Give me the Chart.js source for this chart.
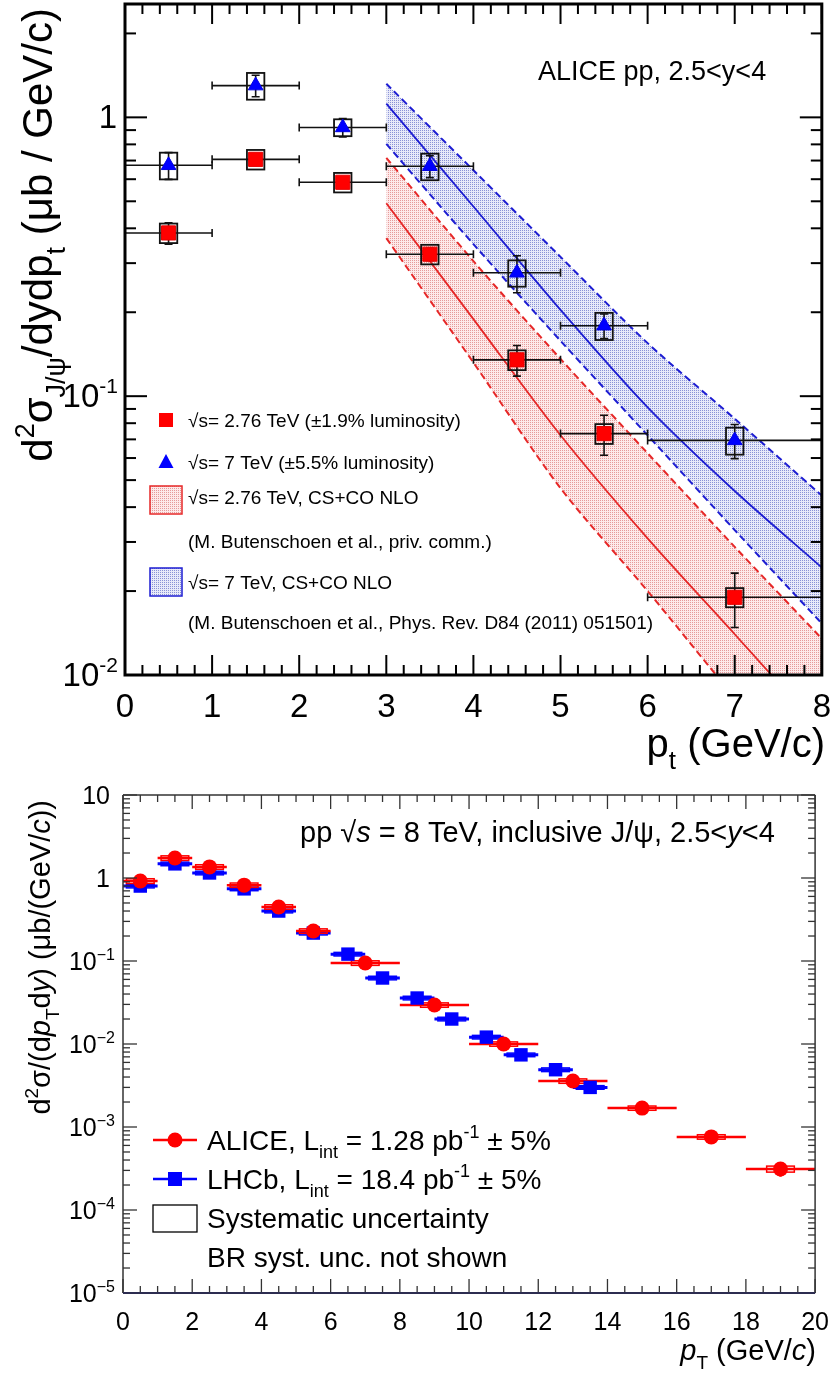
<!DOCTYPE html>
<html>
<head>
<meta charset="utf-8">
<script src="https://cdn.jsdelivr.net/npm/chart.js@4.4.0/dist/chart.umd.min.js"></script>
<style>
html, body { margin: 0; padding: 0; background: #fff; }
#wrap { position: relative; width: 836px; height: 1375px; }
#top { position: absolute; left: 0; top: 0; }
#bottom { position: absolute; left: 0; top: 770px; }
</style>
</head>
<body>
<div id="wrap">
  <canvas id="top" width="836" height="790"></canvas>
  <canvas id="bottom" width="836" height="605"></canvas>
</div>
<script>
const FONT = "'Liberation Sans', Arial, Helvetica, sans-serif";

// ---- top panel: ALICE pp 2.76 TeV and 7 TeV ----
const ptCentres = [0.5, 1.5, 2.5, 3.5, 4.5, 5.5, 7];
const ptLow = [0, 1, 2, 3, 4, 5, 6];
const ptHigh = [1, 2, 3, 4, 5, 6, 8];
const xsec276 = [0.385, 0.707, 0.585, 0.323, 0.135, 0.0734, 0.0190];
const stat276 = [0.034, 0.025, 0.022, 0.016, 0.017, 0.012, 0.0042];
const syst276 = [0.031, 0.057, 0.047, 0.026, 0.011, 0.0060, 0.0015];
const xsec7 = [0.673, 1.30, 0.92, 0.668, 0.277, 0.179, 0.0694];
const stat7 = [0.074, 0.115, 0.07, 0.06, 0.042, 0.018, 0.0097];
const syst7 = [0.074, 0.143, 0.064, 0.073, 0.030, 0.020, 0.0077];

// NLO CS+CO bands
const thX = [3, 4, 5, 6, 7, 8];
const nloRedUp = [0.716, 0.305, 0.136, 0.0624, 0.0288, 0.0135];
const nloRedMid = [0.492, 0.189, 0.0724, 0.0309, 0.0140, 0.0063];
const nloRedLo = [0.369, 0.132, 0.0468, 0.0200, 0.0083, 0.00355];
const nloBlueUp = [1.32, 0.646, 0.316, 0.155, 0.083, 0.044];
const nloBlueMid = [1.12, 0.479, 0.204, 0.0912, 0.0457, 0.0243];
const nloBlueLo = [0.803, 0.351, 0.158, 0.0724, 0.0331, 0.0153];

const topXTicks = [0, 1, 2, 3, 4, 5, 6, 7, 8];
const topYLabels = [[0.01, '10', '-2'], [0.1, '10', '-1'], [1, '1', '']];

// ---- bottom panel: pp 8 TeV, ALICE vs LHCb ----
const aliceX = [0.5, 1.5, 2.5, 3.5, 4.5, 5.5, 7, 9, 11, 13, 15, 17, 19];
const aliceLo = [0, 1, 2, 3, 4, 5, 6, 8, 10, 12, 14, 16, 18];
const aliceHi = [1, 2, 3, 4, 5, 6, 8, 10, 12, 14, 16, 18, 20];
const aliceY = [0.92, 1.74, 1.36, 0.82, 0.448, 0.23, 0.0946, 0.0295, 0.0100, 0.00358, 0.00169, 0.00076, 0.000312];
const aliceStat = [0.02, 0.03, 0.02, 0.012, 0.007, 0.004, 0.002, 0.0007, 0.00025, 0.0001, 0.00006, 0.00004, 0.00006];
const aliceSyst = [0.06, 0.11, 0.085, 0.05, 0.028, 0.014, 0.006, 0.0018, 0.0006, 0.00022, 0.0001, 0.000047, 0.000026];
const lhcbX = [0.5, 1.5, 2.5, 3.5, 4.5, 5.5, 6.5, 7.5, 8.5, 9.5, 10.5, 11.5, 12.5, 13.5];
const lhcbY = [0.80, 1.48, 1.15, 0.74, 0.40, 0.217, 0.121, 0.0624, 0.0358, 0.020, 0.0121, 0.0074, 0.0049, 0.0030];
const lhcbSyst = [0.04, 0.075, 0.058, 0.037, 0.02, 0.011, 0.006, 0.0031, 0.0018, 0.001, 0.0006, 0.00037, 0.00025, 0.00015];

const botXTicks = [0, 2, 4, 6, 8, 10, 12, 14, 16, 18, 20];
const botYLabels = [[1e-5, '10', '\u22125'], [1e-4, '10', '\u22124'], [1e-3, '10', '\u22123'],
                    [1e-2, '10', '\u22122'], [1e-1, '10', '\u22121'], [1, '1', ''], [10, '10', '']];

// rich text with sub/superscripts
const T = (t, s, i) => ({ t: t, s: s, i: i });
function rich(ctx, parts, x, y, size, align) {
  const fontFor = p => (p.i ? 'italic ' : '') + Math.round(p.s ? size * 0.65 : size) + 'px ' + FONT;
  let w = 0;
  parts.forEach(p => { ctx.font = fontFor(p); p.w = ctx.measureText(p.t).width; w += p.w; });
  let cx = align === 'right' ? x - w : (align === 'center' ? x - w / 2 : x);
  ctx.textAlign = 'left';
  ctx.textBaseline = 'alphabetic';
  parts.forEach(p => {
    ctx.font = fontFor(p);
    const dy = p.s === 'sub' ? size * 0.3 : (p.s === 'sup' ? -size * 0.42 : 0);
    ctx.fillText(p.t, cx, y + dy);
    cx += p.w;
  });
  return w;
}

function dotPattern(ctx, bg, dot) {
  const c = document.createElement('canvas');
  c.width = 2; c.height = 2;
  const g = c.getContext('2d');
  g.fillStyle = bg; g.fillRect(0, 0, 2, 2);
  g.fillStyle = dot; g.fillRect(0, 0, 1, 1);
  return ctx.createPattern(c, 'repeat');
}

function line(ctx, x0, y0, x1, y1) {
  ctx.beginPath(); ctx.moveTo(x0, y0); ctx.lineTo(x1, y1); ctx.stroke();
}

const pts = (xs, ys) => xs.map((x, i) => ({ x: x, y: ys[i] }));

// ticks drawn inward, ROOT style
function logTicks(ctx, area, ys, min, max, majLen, minLen) {
  for (let d = Math.floor(Math.log10(min)); d <= Math.ceil(Math.log10(max)); d++) {
    for (let m = 1; m <= 9; m++) {
      const v = m * Math.pow(10, d);
      if (v < min * 0.999 || v > max * 1.001) continue;
      const y = ys.getPixelForValue(v);
      const len = m === 1 ? majLen : minLen;
      line(ctx, area.left, y, area.left + len, y);
      line(ctx, area.right, y, area.right - len, y);
    }
  }
}
function linTicks(ctx, area, xs, min, max, minorStep, majorEvery, majLen, minLen) {
  const n = Math.round((max - min) / minorStep);
  for (let k = 0; k <= n; k++) {
    const x = xs.getPixelForValue(min + k * minorStep);
    const len = k % majorEvery === 0 ? majLen : minLen;
    line(ctx, x, area.bottom, x, area.bottom - len);
    line(ctx, x, area.top, x, area.top + len);
  }
}

// ================= TOP CHART =================
const topCtx = document.getElementById('top').getContext('2d');
const redDots = dotPattern(topCtx, '#fdeaea', '#e69a9a');
const blueDots = dotPattern(topCtx, '#e8eaf9', '#8a92d6');
const RED = 'rgb(230,40,40)';
const BLUE = 'rgb(30,30,210)';

const band = (arr, color, dash, extra) => Object.assign({
  data: pts(thX, arr), borderColor: color, borderWidth: 2, borderDash: dash,
  pointRadius: 0, tension: 0.3, fill: false, order: 10
}, extra || {});

function drawTopErrors(chart) {
  const ctx = chart.ctx, xs = chart.scales.x, ys = chart.scales.y, a = chart.chartArea;
  ctx.save();
  ctx.beginPath(); ctx.rect(a.left, a.top, a.right - a.left, a.bottom - a.top); ctx.clip();
  ctx.strokeStyle = '#111';
  [[xsec276, stat276, syst276], [xsec7, stat7, syst7]].forEach(s => {
    ptCentres.forEach((pc, i) => {
      const v = s[0][i];
      const cx = xs.getPixelForValue(pc), cy = ys.getPixelForValue(v);
      const x0 = xs.getPixelForValue(ptLow[i]), x1 = xs.getPixelForValue(ptHigh[i]);
      ctx.lineWidth = 1.6;
      line(ctx, x0, cy, x1, cy);
      line(ctx, x0, cy - 4, x0, cy + 4);
      line(ctx, x1, cy - 4, x1, cy + 4);
      const yu = ys.getPixelForValue(v + s[1][i]), yd = ys.getPixelForValue(v - s[1][i]);
      line(ctx, cx, yu, cx, yd);
      line(ctx, cx - 4, yu, cx + 4, yu);
      line(ctx, cx - 4, yd, cx + 4, yd);
      const bx0 = xs.getPixelForValue(pc - 0.1), bx1 = xs.getPixelForValue(pc + 0.1);
      const by0 = ys.getPixelForValue(v + s[2][i]), by1 = ys.getPixelForValue(v - s[2][i]);
      ctx.lineWidth = 1.8;
      ctx.strokeRect(bx0, by0, bx1 - bx0, by1 - by0);
    });
  });
  ctx.restore();
}

function drawTopDeco(chart) {
  const ctx = chart.ctx, xs = chart.scales.x, ys = chart.scales.y, a = chart.chartArea;
  ctx.save();
  ctx.strokeStyle = '#000';
  ctx.fillStyle = '#000';
  ctx.lineWidth = 2;
  linTicks(ctx, a, xs, 0, 8, 0.2, 5, 20, 10);
  logTicks(ctx, a, ys, 0.01, 2.55, 22, 11);
  ctx.lineWidth = 3;
  ctx.strokeRect(a.left, a.top, a.right - a.left, a.bottom - a.top);

  topYLabels.forEach(l => {
    const y = ys.getPixelForValue(l[0]);
    const parts = l[2] ? [T(l[1]), T(l[2], 'sup')] : [T(l[1])];
    rich(ctx, parts, l[2] ? 118 : 117, y + 11, 33, 'right');
  });

  // axis titles
  rich(ctx, [T('p'), T('t', 'sub'), T(' (GeV/c)')], 825, 757, 40, 'right');
  ctx.save();
  ctx.translate(52, 8);
  ctx.rotate(-Math.PI / 2);
  rich(ctx, [T('d'), T('2', 'sup'), T('\u03c3'), T('J/\u03c8', 'sub'), T('/dydp'), T('t', 'sub'), T(' (\u03bcb / GeV/c)')], 0, 0, 42, 'right');
  ctx.restore();

  rich(ctx, [T('ALICE pp, 2.5<y<4')], 538, 80, 26.5, 'left');

  // legend
  const lx = 188, size = 18.5;
  ctx.fillStyle = 'rgb(255,0,0)';
  ctx.fillRect(159, 413, 14, 14);
  ctx.fillStyle = 'rgb(0,0,255)';
  ctx.beginPath(); ctx.moveTo(166, 454); ctx.lineTo(173.5, 468); ctx.lineTo(158.5, 468); ctx.closePath(); ctx.fill();
  ctx.fillStyle = redDots; ctx.fillRect(150, 486, 32, 28);
  ctx.strokeStyle = RED; ctx.lineWidth = 1.5; ctx.strokeRect(150, 486, 32, 28);
  ctx.fillStyle = blueDots; ctx.fillRect(150, 568, 32, 28);
  ctx.strokeStyle = BLUE; ctx.strokeRect(150, 568, 32, 28);
  ctx.fillStyle = '#000';
  rich(ctx, [T('\u221as= 2.76 TeV (\u00b11.9% luminosity)')], lx, 427, size, 'left');
  rich(ctx, [T('\u221as= 7 TeV (\u00b15.5% luminosity)')], lx, 469, size, 'left');
  rich(ctx, [T('\u221as= 2.76 TeV, CS+CO NLO')], lx, 504, size, 'left');
  rich(ctx, [T('(M. Butenschoen et al., priv. comm.)')], lx, 548, size, 'left');
  rich(ctx, [T('\u221as= 7 TeV, CS+CO NLO')], lx, 589, size, 'left');
  rich(ctx, [T('(M. Butenschoen et al., Phys. Rev. D84 (2011) 051501)')], lx, 629, size, 'left');
  ctx.restore();
}

new Chart(topCtx, {
  type: 'line',
  data: {
    datasets: [
      { label: '2.76 TeV', data: pts(ptCentres, xsec276), showLine: false, pointStyle: 'rect', pointRadius: 10,
        backgroundColor: 'rgb(255,0,0)', borderColor: 'rgb(230,0,0)', borderWidth: 1, order: 1, marker: true },
      { label: '7 TeV', data: pts(ptCentres, xsec7), showLine: false, pointStyle: 'triangle', pointRadius: 8.5,
        backgroundColor: 'rgb(0,0,255)', borderColor: 'rgb(0,0,230)', borderWidth: 1, order: 0, marker: true },
      band(nloRedUp, RED, [7, 4]),
      band(nloRedLo, RED, [7, 4], { fill: 2, backgroundColor: redDots }),
      band(nloRedMid, RED, [], { order: 5, borderWidth: 1.8 }),
      band(nloBlueUp, BLUE, [7, 4]),
      band(nloBlueLo, BLUE, [7, 4], { fill: 5, backgroundColor: blueDots }),
      band(nloBlueMid, BLUE, [], { order: 5, borderWidth: 1.8 })
    ]
  },
  options: {
    responsive: false, animation: false, events: [],
    layout: { autoPadding: false, padding: { top: 4, right: 10, left: 0, bottom: 0 } },
    plugins: { legend: { display: false }, tooltip: { enabled: false } },
    scales: {
      x: { type: 'linear', min: 0, max: 8, grid: { display: false }, border: { display: false },
           afterBuildTicks: s => { s.ticks = topXTicks.map(v => ({ value: v })); },
           ticks: { font: { size: 33, family: FONT }, color: '#000', padding: 5, maxRotation: 0, autoSkip: false },
           afterFit: s => { s.height = 115; } },
      y: { type: 'logarithmic', min: 0.01, max: 2.55, grid: { display: false }, border: { display: false },
           ticks: { display: false }, afterFit: s => { s.width = 125; } }
    }
  },
  plugins: [{
    id: 'topDeco',
    beforeDraw(chart) { chart.$errDone = false; },
    beforeDatasetDraw(chart, args) {
      if (chart.$errDone || !chart.data.datasets[args.index].marker) return;
      chart.$errDone = true;
      drawTopErrors(chart);
    },
    afterDraw: drawTopDeco
  }]
});

// ================= BOTTOM CHART =================
const botCtx = document.getElementById('bottom').getContext('2d');
const ARED = 'rgb(255,0,0)';
const LBLUE = 'rgb(0,0,255)';

function drawBotErrors(chart) {
  const ctx = chart.ctx, xs = chart.scales.x, ys = chart.scales.y, a = chart.chartArea;
  ctx.save();
  ctx.beginPath(); ctx.rect(a.left, a.top, a.right - a.left, a.bottom - a.top); ctx.clip();
  // LHCb
  ctx.strokeStyle = LBLUE;
  lhcbX.forEach((px, i) => {
    const v = lhcbY[i];
    const cy = ys.getPixelForValue(v);
    ctx.lineWidth = 3;
    line(ctx, xs.getPixelForValue(px - 0.5), cy, xs.getPixelForValue(px + 0.5), cy);
    const bx0 = xs.getPixelForValue(px - 0.4), bx1 = xs.getPixelForValue(px + 0.4);
    const by0 = ys.getPixelForValue(v + lhcbSyst[i]), by1 = ys.getPixelForValue(v - lhcbSyst[i]);
    ctx.lineWidth = 1.5;
    ctx.strokeRect(bx0, by0, bx1 - bx0, by1 - by0);
  });
  // ALICE
  ctx.strokeStyle = ARED;
  aliceX.forEach((px, i) => {
    const v = aliceY[i];
    const cx = xs.getPixelForValue(px), cy = ys.getPixelForValue(v);
    ctx.lineWidth = 2.5;
    line(ctx, xs.getPixelForValue(aliceLo[i]), cy, xs.getPixelForValue(aliceHi[i]), cy);
    line(ctx, cx, ys.getPixelForValue(v + aliceStat[i]), cx, ys.getPixelForValue(v - aliceStat[i]));
    const bx0 = xs.getPixelForValue(px - 0.4), bx1 = xs.getPixelForValue(px + 0.4);
    const by0 = ys.getPixelForValue(v + aliceSyst[i]), by1 = ys.getPixelForValue(v - aliceSyst[i]);
    ctx.lineWidth = 1.5;
    ctx.strokeRect(bx0, by0, bx1 - bx0, by1 - by0);
  });
  ctx.restore();
}

function drawBotDeco(chart) {
  const ctx = chart.ctx, xs = chart.scales.x, ys = chart.scales.y, a = chart.chartArea;
  ctx.save();
  ctx.strokeStyle = '#333';
  ctx.fillStyle = '#000';
  ctx.lineWidth = 1.3;
  linTicks(ctx, a, xs, 0, 20, 0.5, 4, 14, 7);
  logTicks(ctx, a, ys, 1e-5, 10, 14, 7);
  ctx.lineWidth = 1.5;
  line(ctx, a.left, a.top, a.right, a.top);
  line(ctx, a.left, a.top, a.left, a.bottom);
  line(ctx, a.right, a.top, a.right, a.bottom);
  ctx.strokeStyle = '#2c2c50';
  ctx.lineWidth = 2.2;
  line(ctx, a.left, a.bottom, a.right, a.bottom);

  botYLabels.forEach(l => {
    const y = ys.getPixelForValue(l[0]);
    const parts = l[2] ? [T(l[1]), T(l[2], 'sup')] : [T(l[1])];
    rich(ctx, parts, l[2] ? 115 : 110, y + 9, 25, 'right');
  });

  rich(ctx, [T('p', 0, 1), T('T', 'sub'), T(' (GeV/'), T('c', 0, 1), T(')')], 816, 590, 29, 'right');
  ctx.save();
  ctx.translate(50, 30);
  ctx.rotate(-Math.PI / 2);
  rich(ctx, [T('d'), T('2', 'sup'), T('\u03c3/(d'), T('p', 0, 1), T('T', 'sub'), T('d'), T('y', 0, 1),
             T(') (\u03bcb/(GeV/'), T('c', 0, 1), T('))')], 0, 0, 29, 'right');
  ctx.restore();

  rich(ctx, [T('pp '), T('\u221a'), T('s', 0, 1), T(' = 8 TeV, inclusive J/\u03c8, 2.5<'), T('y', 0, 1), T('<4')], 300, 72, 28.5, 'left');

  // legend
  ctx.lineWidth = 2.5;
  ctx.strokeStyle = ARED; line(ctx, 153, 370, 197, 370);
  ctx.fillStyle = ARED; ctx.beginPath(); ctx.arc(175, 370, 7.5, 0, Math.PI * 2); ctx.fill();
  ctx.strokeStyle = LBLUE; line(ctx, 153, 409, 197, 409);
  ctx.fillStyle = LBLUE; ctx.fillRect(168, 402, 14, 14);
  ctx.strokeStyle = '#000'; ctx.lineWidth = 1.3; ctx.strokeRect(153, 435, 44, 27);
  ctx.fillStyle = '#000';
  rich(ctx, [T('ALICE, L'), T('int', 'sub'), T(' = 1.28 pb'), T('-1', 'sup'), T(' \u00b1 5%')], 207, 380, 28, 'left');
  rich(ctx, [T('LHCb, L'), T('int', 'sub'), T(' = 18.4 pb'), T('-1', 'sup'), T(' \u00b1 5%')], 207, 419, 28, 'left');
  rich(ctx, [T('Systematic uncertainty')], 207, 458, 28, 'left');
  rich(ctx, [T('BR syst. unc. not shown')], 207, 497, 28, 'left');
  ctx.restore();
}

new Chart(botCtx, {
  type: 'line',
  data: {
    datasets: [
      { label: 'ALICE', data: pts(aliceX, aliceY), showLine: false, pointStyle: 'circle', pointRadius: 7.5,
        backgroundColor: ARED, borderColor: ARED, borderWidth: 0, order: 0, marker: true },
      { label: 'LHCb', data: pts(lhcbX, lhcbY), showLine: false, pointStyle: 'rect', pointRadius: 9.5,
        backgroundColor: LBLUE, borderColor: LBLUE, borderWidth: 0, order: 1, marker: true }
    ]
  },
  options: {
    responsive: false, animation: false, events: [],
    layout: { autoPadding: false, padding: { top: 25, right: 19, left: 0, bottom: 0 } },
    plugins: { legend: { display: false }, tooltip: { enabled: false } },
    scales: {
      x: { type: 'linear', min: 0, max: 20, grid: { display: false }, border: { display: false },
           afterBuildTicks: s => { s.ticks = botXTicks.map(v => ({ value: v })); },
           ticks: { font: { size: 25, family: FONT }, color: '#000', padding: 7, maxRotation: 0, autoSkip: false },
           afterFit: s => { s.height = 82; } },
      y: { type: 'logarithmic', min: 1e-5, max: 10, grid: { display: false }, border: { display: false },
           ticks: { display: false }, afterFit: s => { s.width = 123; } }
    }
  },
  plugins: [{
    id: 'botDeco',
    beforeDraw(chart) { chart.$errDone = false; },
    beforeDatasetDraw(chart, args) {
      if (chart.$errDone || !chart.data.datasets[args.index].marker) return;
      chart.$errDone = true;
      drawBotErrors(chart);
    },
    afterDraw: drawBotDeco
  }]
});
</script>
</body>
</html>
